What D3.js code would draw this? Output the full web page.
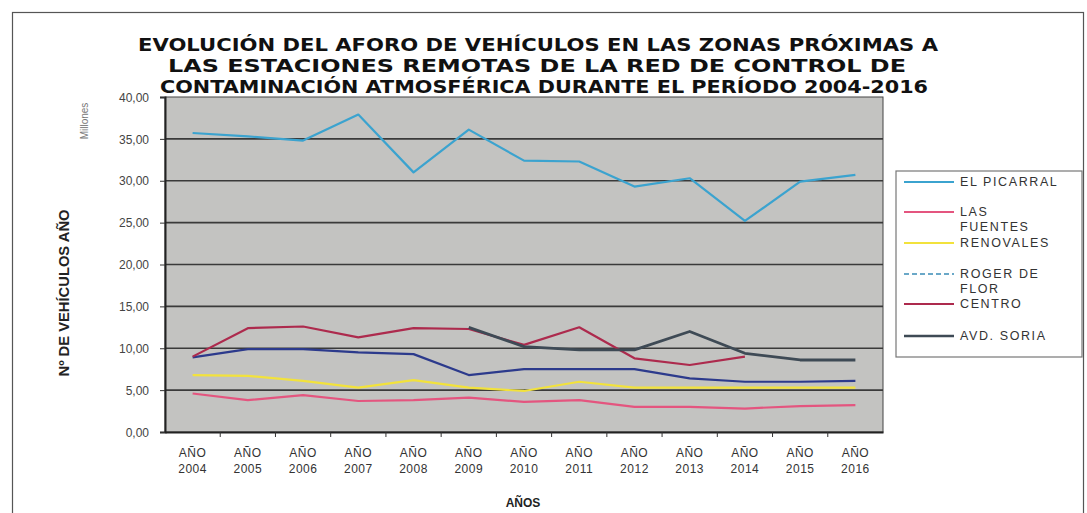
<!DOCTYPE html>
<html>
<head>
<meta charset="utf-8">
<script src="https://cdn.jsdelivr.net/npm/d3@7"></script>
<style>
  body { margin: 0; background: #fff; }
  svg { display: block; }
</style>
</head>
<body>
<div id="chart"></div>
<script>
// chart data (millones de vehículos / año)
const years = ['2004', '2005', '2006', '2007', '2008', '2009', '2010', '2011', '2012', '2013', '2014', '2015', '2016'];
const yTicks = [0, 5, 10, 15, 20, 25, 30, 35, 40];

const elPicarral = [35.7, 35.3, 34.8, 37.9, 31.0, 36.1, 32.4, 32.3, 29.3, 30.3, 25.2, 29.9, 30.7];
const lasFuentes = [4.6, 3.8, 4.4, 3.7, 3.8, 4.1, 3.6, 3.8, 3.0, 3.0, 2.8, 3.1, 3.2];
const renovales = [6.8, 6.7, 6.1, 5.3, 6.2, 5.3, 4.9, 6.0, 5.3, 5.3, 5.3, 5.3, 5.3];
const rogerDeFlor = [8.9, 9.9, 9.9, 9.5, 9.3, 6.8, 7.5, 7.5, 7.5, 6.4, 6.0, 6.0, 6.1];
const centro = [9.0, 12.4, 12.6, 11.3, 12.4, 12.3, 10.4, 12.5, 8.8, 8.0, 9.0, null, null];
const avdSoria = [null, null, null, null, null, 12.5, 10.2, 9.8, 9.8, 12.0, 9.4, 8.6, 8.6];

const seriesNames = ['EL PICARRAL', 'LAS FUENTES', 'RENOVALES', 'ROGER DE FLOR', 'CENTRO', 'AVD. SORIA'];
const seriesValues = [elPicarral, lasFuentes, renovales, rogerDeFlor, centro, avdSoria];

const colors = ['#3ba3cf', '#e4557f', '#f2e23c', '#2c3a8c', '#ad2a4d', '#3e4a55'];

const W = 1087, H = 513;
const margin = { top: 97, right: 204, bottom: 81, left: 165 };
const width = W - margin.left - margin.right;
const height = H - margin.top - margin.bottom;

const root = d3.select('#chart').append('svg')
  .attr('width', W)
  .attr('height', H)
  .style('font-family', 'Liberation Sans, Arial, sans-serif');

// outer frame
root.append('rect')
  .attr('x', 12.5).attr('y', 12.5)
  .attr('width', W - 16).attr('height', H - 10)
  .attr('fill', 'none')
  .attr('stroke', '#555')
  .attr('stroke-width', 1.2);

// title, three centred lines
const titleLines = [
  { text: 'EVOLUCIÓN DEL AFORO DE VEHÍCULOS EN LAS ZONAS PRÓXIMAS A', y: 51, len: 800 },
  { text: 'LAS ESTACIONES REMOTAS DE LA RED DE CONTROL DE', y: 72, len: 738 },
  { text: 'CONTAMINACIÓN ATMOSFÉRICA DURANTE EL PERÍODO 2004-2016', y: 93, len: 768 }
];
root.selectAll('.title')
  .data(titleLines)
  .enter()
  .append('text')
  .attr('class', 'title')
  .attr('x', (d, i) => [538, 537, 544][i])
  .attr('y', (d) => d.y)
  .attr('text-anchor', 'middle')
  .attr('textLength', (d) => d.len)
  .attr('lengthAdjust', 'spacingAndGlyphs')
  .style('font-family', 'DejaVu Sans, sans-serif')
  .style('font-weight', 'bold')
  .style('font-size', '17px')
  .style('fill', '#111')
  .text((d) => d.text);

const svg = root.append('g')
  .attr('transform', `translate(${margin.left},${margin.top})`);

const x = d3.scaleBand().domain(years).range([0, width]);
const y = d3.scaleLinear().domain([0, 40]).range([height, 0]);

// plot background
svg.append('rect')
  .attr('width', width)
  .attr('height', height)
  .attr('fill', '#c3c3c1')
  .attr('stroke', '#444')
  .attr('stroke-width', 1);

// gridlines
svg.append('g')
  .selectAll('line')
  .data(yTicks.filter((t) => t > 0 && t < 40))
  .enter()
  .append('line')
  .attr('x1', 0)
  .attr('x2', width)
  .attr('y1', (d) => y(d))
  .attr('y2', (d) => y(d))
  .attr('stroke', '#3a3a3a')
  .attr('stroke-width', 1.6);

// Y axis
const yAxis = svg.append('g')
  .call(d3.axisLeft(y).tickValues(yTicks).tickSize(5).tickPadding(11)
    .tickFormat((d) => d3.format('.2f')(d).replace('.', ',')));
yAxis.select('.domain').attr('stroke', '#222').attr('stroke-width', 2);
yAxis.selectAll('.tick line').attr('stroke', '#333');
yAxis.selectAll('text')
  .style('font-size', '12px')
  .style('fill', '#444')
  .attr('dy', '0.35em');

// X axis
const xAxis = svg.append('g')
  .attr('transform', `translate(0,${height})`)
  .call(d3.axisBottom(x).tickSize(0).tickFormat(''));
xAxis.select('.domain').attr('stroke', '#222').attr('stroke-width', 2);

// category boundary ticks
svg.append('g')
  .selectAll('line')
  .data(years.slice(1))
  .enter()
  .append('line')
  .attr('x1', (d) => x(d))
  .attr('x2', (d) => x(d))
  .attr('y1', height)
  .attr('y2', height + 5)
  .attr('stroke', '#333');

const xLabels = svg.append('g')
  .selectAll('text')
  .data(years)
  .enter()
  .append('text')
  .attr('x', (d) => x(d) + x.bandwidth() / 2)
  .attr('y', height + 25)
  .attr('text-anchor', 'middle')
  .style('font-size', '12px')
  .style('letter-spacing', '0.5px')
  .style('fill', '#333');
xLabels.append('tspan')
  .attr('x', (d) => x(d) + x.bandwidth() / 2)
  .text('AÑO');
xLabels.append('tspan')
  .attr('x', (d) => x(d) + x.bandwidth() / 2)
  .attr('dy', 16)
  .text((d) => d);

// axis titles
root.append('text')
  .attr('x', 523)
  .attr('y', 507)
  .attr('text-anchor', 'middle')
  .style('font-weight', 'bold')
  .style('font-size', '12px')
  .style('fill', '#222')
  .text('AÑOS');

root.append('text')
  .attr('transform', 'translate(69,293) rotate(-90)')
  .attr('text-anchor', 'middle')
  .attr('textLength', 167)
  .attr('lengthAdjust', 'spacingAndGlyphs')
  .style('font-weight', 'bold')
  .style('font-size', '14px')
  .style('fill', '#222')
  .text('Nº DE VEHÍCULOS AÑO');

root.append('text')
  .attr('transform', 'translate(88,121) rotate(-90)')
  .attr('text-anchor', 'middle')
  .style('font-size', '10px')
  .style('fill', '#777')
  .text('Millones');

// series lines
const line = d3.line()
  .defined((d) => d != null)
  .x((d, i) => x(years[i]) + x.bandwidth() / 2)
  .y((d) => y(d));

svg.append('g')
  .selectAll('path')
  .data(seriesValues)
  .enter()
  .append('path')
  .attr('d', (d) => line(d))
  .attr('fill', 'none')
  .attr('stroke', (d, i) => colors[i])
  .attr('stroke-width', (d, i) => (i === 5 ? 2.8 : 2.2))
  .attr('stroke-linejoin', 'round');

// legend
const legend = root.append('g').attr('transform', 'translate(896,171)');
legend.append('rect')
  .attr('width', 186)
  .attr('height', 186)
  .attr('fill', '#fff')
  .attr('stroke', '#777')
  .attr('stroke-width', 1.2);

const legendItems = [
  { lines: ['EL PICARRAL'], lineY: 11, textY: 15 },
  { lines: ['LAS', 'FUENTES'], lineY: 41, textY: 45 },
  { lines: ['RENOVALES'], lineY: 72, textY: 76 },
  { lines: ['ROGER DE', 'FLOR'], lineY: 103, textY: 107 },
  { lines: ['CENTRO'], lineY: 133, textY: 137 },
  { lines: ['AVD. SORIA'], lineY: 165, textY: 169 }
];

const item = legend.selectAll('.item')
  .data(legendItems)
  .enter()
  .append('g')
  .attr('class', 'item');

item.append('line')
  .attr('x1', 8)
  .attr('x2', 58)
  .attr('y1', (d) => d.lineY)
  .attr('y2', (d) => d.lineY)
  .attr('stroke', (d, i) => (i === 3 ? '#6aa8c8' : colors[i]))
  .attr('stroke-dasharray', (d, i) => (i === 3 ? '5,3' : null))
  .attr('stroke-width', (d, i) => (i === 5 ? 2.6 : 2.2));

item.append('text')
  .attr('y', (d) => d.textY)
  .style('font-size', '12.5px')
  .style('fill', '#333')
  .style('letter-spacing', '1.6px')
  .selectAll('tspan')
  .data((d) => d.lines)
  .enter()
  .append('tspan')
  .attr('x', 64)
  .attr('dy', (d, i) => (i === 0 ? 0 : 15))
  .text((d) => d);
</script>
</body>
</html>
